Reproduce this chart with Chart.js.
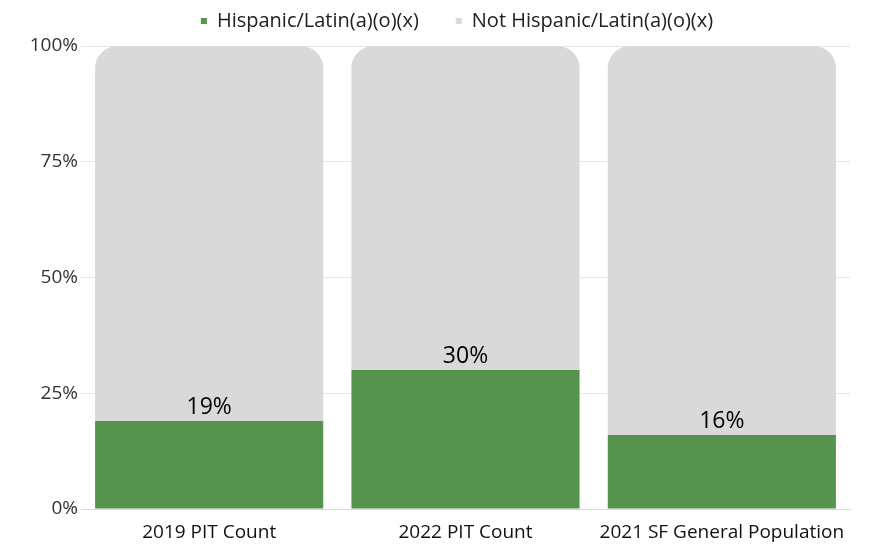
<!DOCTYPE html>
<html>
<head>
<meta charset="utf-8">
<script src="https://cdn.jsdelivr.net/npm/chart.js@4"></script>
<style>
  html, body { margin: 0; padding: 0; background: #fff; }
  #wrap { width: 886px; height: 545px; }
</style>
</head>
<body>
<div id="wrap"><canvas id="myChart" width="886" height="545"></canvas></div>
<script>
const categories = ['2019 PIT Count', '2022 PIT Count', '2021 SF General Population'];
const hispanic = [19, 30, 16];
const notHispanic = [81, 70, 84];
const yTicks = [0, 25, 50, 75, 100];

const FONT = '"Open Sans", "Noto Sans", sans-serif';
const LEGEND_PAD = 37;

// draw "19%" etc. above the green bars
const barLabels = {
    id: 'barLabels',
    afterDatasetsDraw(chart) {
        const ctx = chart.ctx;
        const meta = chart.getDatasetMeta(0);
        ctx.save();
        ctx.font = '23px ' + FONT;
        ctx.fillStyle = '#000';
        ctx.textAlign = 'center';
        ctx.textBaseline = 'bottom';
        meta.data.forEach((bar, i) => {
            ctx.fillText(hispanic[i] + '%', bar.x, bar.y - 2);
        });
        ctx.restore();
    }
};

// wide gap between legend items, but keep the legend block short
const legendGap = {
    id: 'legendGap',
    beforeInit(chart) {
        const fit = chart.legend.fit;
        chart.legend.fit = function () {
            fit.bind(chart.legend)();
            this.height = 43;
        };
    },
    afterLayout(chart) {
        const lg = chart.legend;
        lg.top -= LEGEND_PAD - 8;
        lg.left += 32;
        lg.right += 32;
    }
};

const ctx = document.getElementById('myChart').getContext('2d');
new Chart(ctx, {
    type: 'bar',
    data: {
        labels: categories,
        datasets: [{
            label: 'Hispanic/Latin(a)(o)(x)',
            data: hispanic,
            backgroundColor: '#55934e',
            borderRadius: 0,
            categoryPercentage: 1,
            barPercentage: 0.89
        }, {
            label: 'Not Hispanic/Latin(a)(o)(x)',
            data: notHispanic,
            backgroundColor: '#d9d9d9',
            borderRadius: { topLeft: 22, topRight: 22, bottomLeft: 0, bottomRight: 0 },
            borderSkipped: false,
            categoryPercentage: 1,
            barPercentage: 0.89
        }]
    },
    options: {
        responsive: false,
        animation: false,
        layout: { padding: { left: 0, right: 36, top: 3, bottom: 0 } },
        plugins: {
            legend: {
                position: 'top',
                labels: {
                    boxWidth: 6,
                    boxHeight: 6,
                    color: '#222',
                    padding: LEGEND_PAD,
                    font: { family: FONT, size: 20 }
                }
            },
            title: { display: false },
            tooltip: { enabled: false }
        },
        scales: {
            x: {
                stacked: true,
                grid: { display: false },
                border: { display: true, color: '#d9d9d9' },
                afterFit(scale) { scale.height = 36; },
                ticks: { color: '#111', padding: 4, font: { family: FONT, size: 19 } }
            },
            y: {
                stacked: true,
                min: 0,
                max: 100,
                afterBuildTicks(scale) {
                    scale.ticks = yTicks.map(v => ({ value: v }));
                },
                afterFit(scale) { scale.width = 81; },
                grid: { color: '#e6e6e6', drawTicks: false },
                border: { display: false },
                ticks: {
                    color: '#333',
                    padding: 3,
                    font: { family: FONT, size: 19 },
                    callback: v => v + '%'
                }
            }
        }
    },
    plugins: [barLabels, legendGap]
});
</script>
</body>
</html>
